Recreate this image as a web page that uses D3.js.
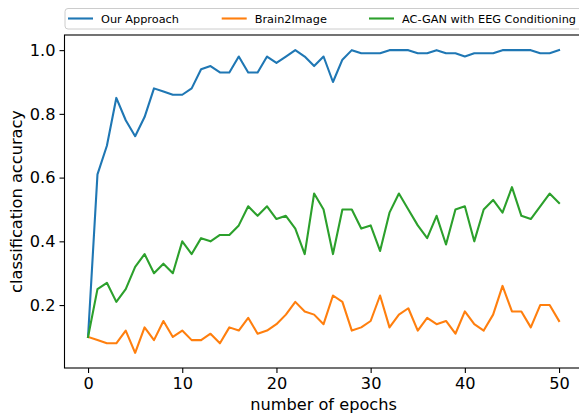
<!DOCTYPE html>
<html>
<head>
<meta charset="utf-8">
<style>
  body { margin: 0; background: #fff; }
  svg { display: block; font-family: "DejaVu Sans", sans-serif; }
</style>
</head>
<body>
<div id="chart"></div>
<script src="https://d3js.org/d3.v7.min.js"></script>
<script>
  // epochs 0..50
  const epochs = d3.range(0, 51);

  const ourApproach = [0.10, 0.61, 0.70, 0.85, 0.78, 0.73, 0.79, 0.88, 0.87, 0.86,
    0.86, 0.88, 0.94, 0.95, 0.93, 0.93, 0.98, 0.93, 0.93, 0.98,
    0.96, 0.98, 1.00, 0.98, 0.95, 0.98, 0.90, 0.97, 1.00, 0.99,
    0.99, 0.99, 1.00, 1.00, 1.00, 0.99, 0.99, 1.00, 0.99, 0.99,
    0.98, 0.99, 0.99, 0.99, 1.00, 1.00, 1.00, 1.00, 0.99, 0.99, 1.00];

  const brain2Image = [0.10, 0.09, 0.08, 0.08, 0.12, 0.05, 0.13, 0.09, 0.15, 0.10,
    0.12, 0.09, 0.09, 0.11, 0.08, 0.13, 0.12, 0.16, 0.11, 0.12,
    0.14, 0.17, 0.21, 0.18, 0.17, 0.14, 0.23, 0.21, 0.12, 0.13,
    0.15, 0.23, 0.13, 0.17, 0.19, 0.12, 0.16, 0.14, 0.15, 0.11,
    0.18, 0.14, 0.12, 0.17, 0.26, 0.18, 0.18, 0.13, 0.20, 0.20, 0.15];

  const acGan = [0.10, 0.25, 0.27, 0.21, 0.25, 0.32, 0.36, 0.30, 0.33, 0.30,
    0.40, 0.36, 0.41, 0.40, 0.42, 0.42, 0.45, 0.51, 0.48, 0.51,
    0.47, 0.48, 0.44, 0.36, 0.55, 0.50, 0.36, 0.50, 0.50, 0.44,
    0.45, 0.37, 0.49, 0.55, 0.50, 0.45, 0.41, 0.48, 0.39, 0.50,
    0.51, 0.40, 0.50, 0.53, 0.49, 0.57, 0.48, 0.47, 0.51, 0.55, 0.52];

  const seriesNames = ["Our Approach", "Brain2Image", "AC-GAN with EEG Conditioning"];
  const seriesColors = ["#1f77b4", "#ff7f0e", "#2ca02c"];
  const xTicks = [0, 10, 20, 30, 40, 50];
  const yTicks = [0.2, 0.4, 0.6, 0.8, 1.0];

  const W = 579, H = 415;
  const svg = d3.select("#chart").append("svg")
    .attr("width", W).attr("height", H);

  const x = d3.scaleLinear().domain([-2.5, 52.5]).range([64.5, 582.6]);
  const y = d3.scaleLinear().domain([0.0025, 1.0475]).range([368, 35]);

  // lines
  const line = d3.line()
    .x((d, i) => x(epochs[i]))
    .y(d => y(d));

  svg.append("clipPath").attr("id", "clip")
    .append("rect").attr("x", 64.5).attr("y", 35).attr("width", 520).attr("height", 333);

  [ourApproach, brain2Image, acGan].forEach((vals, k) => {
    svg.append("path")
      .datum(vals)
      .attr("clip-path", "url(#clip)")
      .attr("fill", "none")
      .attr("stroke", seriesColors[k])
      .attr("stroke-width", 2.1)
      .attr("stroke-linejoin", "round")
      .attr("stroke-linecap", "square")
      .attr("d", line);
  });

  // axes
  const xAxis = svg.append("g")
    .attr("transform", "translate(0,368)")
    .call(d3.axisBottom(x).tickValues(xTicks).tickSize(5).tickPadding(4.5).tickFormat(d3.format("d")));
  const yAxis = svg.append("g")
    .attr("transform", "translate(64.5,0)")
    .call(d3.axisLeft(y).tickValues(yTicks).tickSize(5).tickPadding(4).tickFormat(d3.format(".1f")));

  [xAxis, yAxis].forEach(a => {
    a.select(".domain").remove();
    a.selectAll(".tick line").attr("stroke", "#000").attr("stroke-width", 1.1);
    a.selectAll(".tick text").attr("fill", "#000")
      .style("font-family", "DejaVu Sans").style("font-size", "16.2px");
  });

  // spines
  svg.append("rect")
    .attr("x", 64.5).attr("y", 35).attr("width", 518.1).attr("height", 333)
    .attr("fill", "none").attr("stroke", "#000").attr("stroke-width", 1.1);

  // axis labels
  svg.append("text")
    .attr("x", x(25)).attr("y", 410)
    .attr("text-anchor", "middle")
    .style("font-size", "16.2px")
    .text("number of epochs");

  svg.append("text")
    .attr("transform", "translate(22," + y(0.525) + ") rotate(-90)")
    .attr("text-anchor", "middle")
    .style("font-size", "16.2px")
    .text("classification accuracy");

  // legend
  const legend = svg.append("g");
  legend.append("rect")
    .attr("x", 65).attr("y", 8.5).attr("width", 530).attr("height", 20.5)
    .attr("rx", 3).attr("fill", "#fff").attr("fill-opacity", 0.8)
    .attr("stroke", "#cccccc").attr("stroke-width", 1);

  const legendX = [68, 221.7, 369];
  seriesNames.forEach((name, k) => {
    const gx = legendX[k];
    legend.append("line")
      .attr("x1", gx).attr("x2", gx + 25)
      .attr("y1", 18.5).attr("y2", 18.5)
      .attr("stroke", seriesColors[k]).attr("stroke-width", 2.1);
    legend.append("text")
      .attr("x", gx + 33).attr("y", 22.5)
      .style("font-size", "11.3px")
      .text(name);
  });
</script>
</body>
</html>
